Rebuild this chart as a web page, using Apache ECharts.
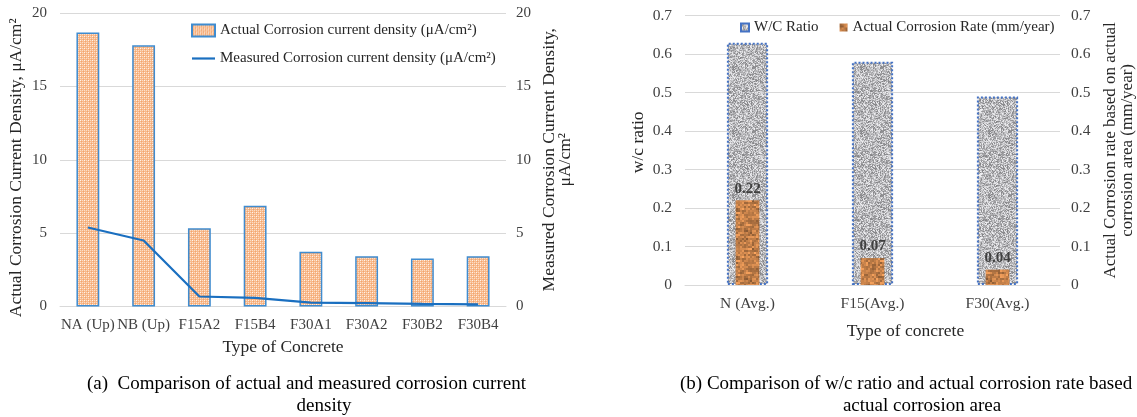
<!DOCTYPE html>
<html><head><meta charset="utf-8">
<script src="https://cdn.jsdelivr.net/npm/echarts@6/dist/echarts.min.js"></script>
<style>html,body{margin:0;padding:0;background:#fff}#c{width:1137px;height:417px}</style>
</head><body><div id="c"></div>
<script>
// ---- data ----
const concreteTypes = ['NA (Up)','NB (Up)','F15A2','F15B4','F30A1','F30A2','F30B2','F30B4'];
const actualDensity = [18.67,17.8,5.34,6.87,3.73,3.43,3.27,3.43];
const measuredDensity = [5.38,4.5,0.68,0.59,0.27,0.23,0.18,0.14];
const densityAxis = {min:0,max:20,interval:5};
const avgTypes = ['N (Avg.)','F15(Avg.)','F30(Avg.)'];
const wcRatio = [0.63,0.58,0.49];
const corrosionRate = [0.22,0.07,0.04];
const rateAxis = {min:0,max:0.7,interval:0.1};

// ---- texture helpers (style only) ----
function hash(x,y,s){let h=(x*374761393+y*668265263+s*982451653)|0;h=Math.imul(h^(h>>>13),1274126177);return ((h^(h>>>16))>>>0)/4294967295;}
function peachPattern(){const c=document.createElement('canvas');c.width=4;c.height=4;const g=c.getContext('2d');
  g.fillStyle='#F7B98C';g.fillRect(0,0,4,4);
  g.fillStyle='#FCDDC6';[[0,0],[2,0],[0,2],[2,2]].forEach(p=>g.fillRect(p[0],p[1],1,1));
  g.fillStyle='#F3A46C';[[1,1],[3,3]].forEach(p=>g.fillRect(p[0],p[1],1,1));
  g.fillStyle='#FFF4EC';g.fillRect(0,0,1,1);return c;}
function grayPattern(){const n=64,c=document.createElement('canvas');c.width=n;c.height=n;const g=c.getContext('2d');const im=g.createImageData(n,n);
  for(let y=0;y<n;y++)for(let x=0;x<n;x++){const v=Math.round(130+hash(x,y,1)*110);const i=(y*n+x)*4;im.data[i]=v;im.data[i+1]=v;im.data[i+2]=v+3;im.data[i+3]=255;}
  g.putImageData(im,0,0);return c;}
function brownPattern(){const n=48,c=document.createElement('canvas');c.width=n;c.height=n;const g=c.getContext('2d');
  for(let y=0;y<n;y+=2)for(let x=0;x<n;x+=2){const f=0.62+hash(x>>2,y>>1,7)*0.28+hash(x,y,3)*0.3;g.fillStyle='rgb('+Math.min(255,Math.round(214*f))+','+Math.round(140*f)+','+Math.round(80*f)+')';g.fillRect(x,y,2,2);}
  return c;}

const FONT='"Liberation Serif","Times New Roman",serif';
const TXT='#404040';
const GRID='#D9D9D9';

const chart=echarts.init(document.getElementById('c'),null,{renderer:'canvas'});
const nameA1='Actual Corrosion current density (μA/cm²)';
const nameA2='Measured Corrosion current density (μA/cm²)';
const nameB1='W/C Ratio';
const nameB2='Actual Corrosion Rate (mm/year)';

chart.setOption({
  animation:false,
  textStyle:{fontFamily:FONT},
  grid:[
    {left:60,right:631,top:13,bottom:110.5},
    {left:685,right:76,top:15.7,bottom:132}
  ],
  legend:[
    {orient:'vertical',left:191,top:23,itemWidth:23,itemHeight:12,itemGap:13,padding:0,
     data:[{name:nameA1,icon:'rect'},{name:nameA2,icon:'path://M0,0H23V2.2H0Z'}],
     textStyle:{fontFamily:FONT,fontSize:15,color:'#262626'}},
    {orient:'horizontal',left:740,top:20,itemWidth:8,itemHeight:8,itemGap:21,padding:0,
     data:[{name:nameB1,icon:'rect'},{name:nameB2,icon:'rect'}],
     textStyle:{fontFamily:FONT,fontSize:15,color:'#262626'}}
  ],
  xAxis:[
    {type:'category',gridIndex:0,data:concreteTypes,axisTick:{show:false},
     axisLine:{lineStyle:{color:GRID,width:1}},
     axisLabel:{interval:0,margin:11,fontSize:15,color:TXT,fontFamily:FONT},
     name:'Type of Concrete',nameLocation:'middle',nameGap:32,
     nameTextStyle:{fontSize:17.5,color:'#262626',fontFamily:FONT}},
    {type:'category',gridIndex:1,data:avgTypes,axisTick:{show:false},
     axisLine:{lineStyle:{color:GRID,width:1}},
     axisLabel:{interval:0,margin:11,fontSize:15.5,color:TXT,fontFamily:FONT},
     name:'Type of concrete',nameLocation:'middle',nameGap:37,
     nameTextStyle:{fontSize:17.5,color:'#262626',fontFamily:FONT,padding:[0,0,0,66]}},
    {type:'category',gridIndex:1,data:avgTypes,show:false}
  ],
  yAxis:[
    {type:'value',gridIndex:0,position:'left',min:densityAxis.min,max:densityAxis.max,interval:densityAxis.interval,
     axisLine:{show:false},axisTick:{show:false},
     splitLine:{lineStyle:{color:GRID,width:1}},
     axisLabel:{margin:13,fontSize:15,color:TXT,fontFamily:FONT},
     name:'Actual Corrosion Current Density, μA/cm²',nameLocation:'middle',nameGap:35,
     nameTextStyle:{fontSize:17.5,color:'#262626',fontFamily:FONT,padding:[0,16,0,0]}},
    {type:'value',gridIndex:0,position:'right',min:densityAxis.min,max:densityAxis.max,interval:densityAxis.interval,
     axisLine:{show:false},axisTick:{show:false},splitLine:{show:false},
     axisLabel:{margin:10,fontSize:15,color:TXT,fontFamily:FONT},
     name:'Measured Corrosion Current Density,\nμA/cm²',nameLocation:'middle',nameGap:35,
     nameTextStyle:{fontSize:17.5,lineHeight:16,color:'#262626',fontFamily:FONT}},
    {type:'value',gridIndex:1,position:'left',min:rateAxis.min,max:rateAxis.max,interval:rateAxis.interval,
     axisLine:{show:false},axisTick:{show:false},
     splitLine:{lineStyle:{color:GRID,width:1}},
     axisLabel:{margin:13,fontSize:15.5,color:TXT,fontFamily:FONT},
     name:'w/c ratio',nameLocation:'middle',nameGap:38,
     nameTextStyle:{fontSize:17.5,color:'#262626',fontFamily:FONT,padding:[0,0,0,16]}},
    {type:'value',gridIndex:1,position:'right',min:rateAxis.min,max:rateAxis.max,interval:rateAxis.interval,
     axisLine:{show:false},axisTick:{show:false},splitLine:{show:false},
     axisLabel:{margin:11,fontSize:15.5,color:TXT,fontFamily:FONT},
     name:'Actual Corrosion rate based on actual\ncorrosion area (mm/year)',nameLocation:'middle',nameGap:42,
     nameTextStyle:{fontSize:17,lineHeight:17,color:'#262626',fontFamily:FONT}}
  ],
  series:[
    {name:nameA1,type:'bar',xAxisIndex:0,yAxisIndex:0,data:actualDensity,barWidth:'41%',
     itemStyle:{color:{image:peachPattern(),repeat:'repeat'},borderColor:'#3F8CD0',borderWidth:1.5}},
    {name:nameA2,type:'line',xAxisIndex:0,yAxisIndex:1,data:measuredDensity,symbol:'none',z:5,
     itemStyle:{color:'#1A6FC0'},lineStyle:{color:'#1A6FC0',width:2.2}},
    {name:nameB1,type:'bar',xAxisIndex:1,yAxisIndex:2,data:wcRatio,barWidth:'33%',
     itemStyle:{color:{image:grayPattern(),repeat:'repeat'},borderColor:'#4472C4',borderWidth:2,borderType:'dotted'}},
    {name:nameB2,type:'bar',xAxisIndex:2,yAxisIndex:3,data:corrosionRate,barWidth:'19%',z:4,
     itemStyle:{color:{image:brownPattern(),repeat:'repeat'}},
     label:{show:true,position:'top',distance:4,fontSize:15,fontWeight:'bold',color:'#404040',fontFamily:FONT}}
  ],
  graphic:[
    {type:'text',x:87,y:384,style:{text:'(a)  Comparison of actual and measured corrosion current',font:'19px '+FONT,fill:'#000',textAlign:'left',textVerticalAlign:'middle'}},
    {type:'text',x:324,y:406,style:{text:'density',font:'19px '+FONT,fill:'#000',textAlign:'center',textVerticalAlign:'middle'}},
    {type:'text',x:680,y:384,style:{text:'(b) Comparison of w/c ratio and actual corrosion rate based on',font:'19px '+FONT,fill:'#000',textAlign:'left',textVerticalAlign:'middle'}},
    {type:'text',x:922,y:406,style:{text:'actual corrosion area',font:'19px '+FONT,fill:'#000',textAlign:'center',textVerticalAlign:'middle'}}
  ]
});
</script></body></html>
